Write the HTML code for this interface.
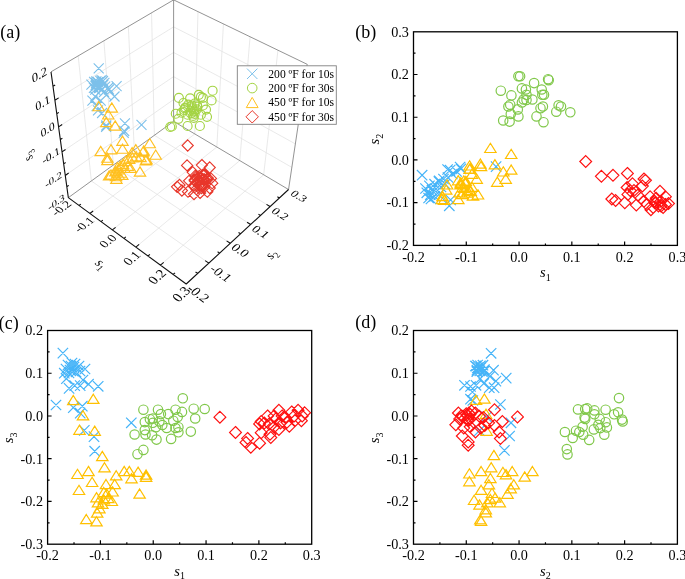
<!DOCTYPE html>
<html><head><meta charset="utf-8"><style>
html,body{margin:0;padding:0;background:#fff;width:685px;height:579px;overflow:hidden}
svg{display:block;will-change:transform}
text{font-family:"Liberation Serif",serif}
</style></head><body>
<svg width="685" height="579" viewBox="0 0 685 579" font-family="'Liberation Serif', serif" font-size="14.2" fill="#000">
<path d="M89.87 213.45L194.8 133.94M91.35 180.98L208.81 263.14M112.35 229.91L216.85 147.02M113.32 165.06L230.26 243.33M135.86 247.13L239.79 160.62M134.3 149.84L250.65 224.51M160.45 265.14L263.66 174.78M154.37 135.29L270.05 206.59M91.35 180.98L78.18 55.87M113.32 165.06L103.93 40.76M134.3 149.84L128.35 26.43M154.37 135.29L151.55 12.81M65.27 175.44L173.58 99.59M62.02 151.87L173.59 76.65M58.57 126.84L173.6 52.46M54.91 100.22L173.6 26.9M194.8 133.94L197.97 11.62M216.85 147.02L223.43 23.91M239.79 160.62L250.07 36.76M263.66 174.78L277.98 50.23M173.58 99.59L291.85 167.37M173.59 76.65L295.35 143.9M173.6 52.46L299.07 119M173.6 26.9L303.03 92.53" stroke="#E0E0E0" stroke-width="0.7" fill="none"/>
<path d="M68.33 197.67L173.58 121.36M173.58 121.36L288.54 189.52M173.58 121.36L173.61 -0.13M51 71.83L173.61 -0.13M173.61 -0.13L307.24 64.34M288.54 189.52L307.24 64.34" stroke="#777" stroke-width="0.8" fill="none"/>
<path d="M68.33 197.67L186.21 284.01M186.21 284.01L288.54 189.52M68.33 197.67L51 71.83M78.99 205.48L80.87 204.08M197.66 273.44L195.56 271.93M89.87 213.45L93.15 210.96M208.81 263.14L205.15 260.58M100.99 221.59L102.87 220.13M219.67 253.11L217.59 251.68M112.35 229.91L115.63 227.31M230.26 243.33L226.63 240.9M123.98 238.43L125.85 236.9M240.58 233.8L238.51 232.45M135.86 247.13L139.13 244.41M250.65 224.51L247.05 222.19M148.02 256.03L149.88 254.44M260.47 215.44L258.41 214.15M160.45 265.14L163.71 262.29M270.05 206.59L266.48 204.39M173.18 274.46L175.04 272.79M279.4 197.96L277.37 196.73M66.82 186.72L68.74 185.35M65.27 175.44L68.66 173.06M63.67 163.83L65.65 162.47M62.02 151.87L65.53 149.51M60.33 139.55L62.37 138.2M58.57 126.84L62.2 124.5M56.77 113.74L58.88 112.4M54.91 100.22L58.66 97.89M52.98 86.25L55.17 84.93" stroke="#111" stroke-width="1.1" fill="none"/>
<text transform="matrix(1 -0.59 0.14 1.05 39.3 74.5)" text-anchor="middle" font-size="12" y="4.1">0.2</text>
<text transform="matrix(0.97 -0.6 0.14 0.99 42.8 102.8)" text-anchor="middle" font-size="12" y="4.1">0.1</text>
<text transform="matrix(0.93 -0.6 0.13 0.93 47.6 129.4)" text-anchor="middle" font-size="12" y="4.1">0.0</text>
<text transform="matrix(0.9 -0.61 0.12 0.87 51 155.5)" text-anchor="middle" font-size="12" y="4.1">-0.1</text>
<text transform="matrix(0.87 -0.61 0.11 0.82 53.6 179.4)" text-anchor="middle" font-size="12" y="4.1">-0.2</text>
<text transform="matrix(0.85 -0.61 0.11 0.78 56.4 202.1)" text-anchor="middle" font-size="12" y="4.1">-0.3</text>
<text transform="matrix(0.85 -0.61 0.76 0.56 61.2 208.2)" text-anchor="middle" font-size="12" y="4.1">-0.2</text>
<text transform="matrix(0.85 -0.64 0.79 0.58 84 224.5)" text-anchor="middle" font-size="12" y="4.1">-0.1</text>
<text transform="matrix(0.84 -0.67 0.83 0.61 107.7 241)" text-anchor="middle" font-size="12" y="4.1">0.0</text>
<text transform="matrix(0.84 -0.7 0.87 0.64 131.7 258.2)" text-anchor="middle" font-size="12" y="4.1">0.1</text>
<text transform="matrix(0.84 -0.73 0.91 0.66 156.9 276.7)" text-anchor="middle" font-size="12" y="4.1">0.2</text>
<text transform="matrix(0.83 -0.77 0.95 0.7 181 294)" text-anchor="middle" font-size="12" y="4.1">0.3</text>
<text transform="matrix(0.95 0.7 -0.84 0.77 198.4 293.3)" text-anchor="middle" font-size="12" y="4.1">-0.2</text>
<text transform="matrix(0.95 0.66 -0.79 0.73 220.9 273.3)" text-anchor="middle" font-size="12" y="4.1">-0.1</text>
<text transform="matrix(0.94 0.63 -0.75 0.7 240.5 250.3)" text-anchor="middle" font-size="12" y="4.1">0.0</text>
<text transform="matrix(0.93 0.6 -0.72 0.66 260.7 231.7)" text-anchor="middle" font-size="12" y="4.1">0.1</text>
<text transform="matrix(0.92 0.57 -0.68 0.63 280.3 213.8)" text-anchor="middle" font-size="12" y="4.1">0.2</text>
<text transform="matrix(0.92 0.54 -0.65 0.6 299 196)" text-anchor="middle" font-size="12" y="4.1">0.3</text>
<text transform="matrix(0.83 0.64 -0.89 0.71 100.7 264.5)" text-anchor="middle" font-size="12.5" y="3"><tspan font-style="italic">s</tspan><tspan font-size="8.75" dy="3">1</tspan></text>
<text transform="matrix(0.73 -0.68 0.94 0.61 272 254.8)" text-anchor="middle" font-size="12.5" y="3"><tspan font-style="italic">s</tspan><tspan font-size="8.75" dy="3">2</tspan></text>
<text transform="matrix(-0.18 -0.91 0.99 -0.66 28.9 156.1)" text-anchor="middle" font-size="12.5" y="3"><tspan font-style="italic">s</tspan><tspan font-size="8.75" dy="3">3</tspan></text>
<path d="M93.7 63.4l10 10M93.7 73.4l10 -10M111.6 81.1l10 10M111.6 91.1l10 -10M109.5 91.5l10 10M109.5 101.5l10 -10M90.2 91.5l10 10M90.2 101.5l10 -10M101.3 90.1l10 10M101.3 100.1l10 -10M95.7 95.6l10 10M95.7 105.6l10 -10M91.6 101.1l10 10M91.6 111.1l10 -10M97.1 108l10 10M97.1 118l10 -10M119.9 118.4l10 10M119.9 128.4l10 -10M136.5 119.8l10 10M136.5 129.8l10 -10M101.3 120.5l10 10M101.3 130.5l10 -10M119.2 126l10 10M119.2 136l10 -10M93 105.3l10 10M93 115.3l10 -10M104 84.5l10 10M104 94.5l10 -10M87.4 95.6l10 10M87.4 105.6l10 -10M101.1 121.8l10 10M101.1 131.8l10 -10M118.7 127.9l10 10M118.7 137.9l10 -10M103 83l10 10M103 93l10 -10M99 87l10 10M99 97l10 -10M95.3 82.7l10 10M95.3 92.7l10 -10M97.1 84.6l10 10M97.1 94.6l10 -10M86.4 79.6l10 10M86.4 89.6l10 -10M100.2 81.6l10 10M100.2 91.6l10 -10M93 77.2l10 10M93 87.2l10 -10M94.2 80.8l10 10M94.2 90.8l10 -10M90.2 84.6l10 10M90.2 94.6l10 -10M97.5 76.3l10 10M97.5 86.3l10 -10M98 76l10 10M98 86l10 -10M95.3 75.9l10 10M95.3 85.9l10 -10M89.1 76.9l10 10M89.1 86.9l10 -10M94.1 82l10 10M94.1 92l10 -10M99.4 77.8l10 10M99.4 87.8l10 -10M91.4 76.3l10 10M91.4 86.3l10 -10M90.5 81.1l10 10M90.5 91.1l10 -10M91.1 77.9l10 10M91.1 87.9l10 -10M98.3 79.8l10 10M98.3 89.8l10 -10M90.7 79.8l10 10M90.7 89.8l10 -10M96.6 75.1l10 10M96.6 85.1l10 -10M97.2 83.8l10 10M97.2 93.8l10 -10M91.5 80.9l10 10M91.5 90.9l10 -10M88.9 82.8l10 10M88.9 92.8l10 -10M91.2 78.4l10 10M91.2 88.4l10 -10M93.9 83l10 10M93.9 93l10 -10" stroke="#7CC0EA" stroke-width="1.1" fill="none"/>
<g fill="none" stroke="#A4D444" stroke-width="1.15"><circle cx="212.6" cy="90.7" r="4.5"/><circle cx="178.9" cy="97.9" r="4.5"/><circle cx="198.8" cy="94.8" r="4.5"/><circle cx="200.9" cy="96.9" r="4.5"/><circle cx="202.9" cy="97.9" r="4.5"/><circle cx="211.6" cy="100.4" r="4.5"/><circle cx="190.1" cy="98.4" r="4.5"/><circle cx="183.5" cy="103" r="4.5"/><circle cx="194.7" cy="103.5" r="4.5"/><circle cx="202.9" cy="105.5" r="4.5"/><circle cx="206" cy="109.6" r="4.5"/><circle cx="194.7" cy="110.7" r="4.5"/><circle cx="190.7" cy="110.7" r="4.5"/><circle cx="181.5" cy="112.7" r="4.5"/><circle cx="175.8" cy="113.7" r="4.5"/><circle cx="187.6" cy="114.7" r="4.5"/><circle cx="200.9" cy="114.7" r="4.5"/><circle cx="207" cy="116.8" r="4.5"/><circle cx="178.4" cy="118.8" r="4.5"/><circle cx="193.7" cy="117.8" r="4.5"/><circle cx="187.6" cy="126" r="4.5"/><circle cx="199.9" cy="126" r="4.5"/><circle cx="170.2" cy="127" r="4.5"/><circle cx="171.8" cy="126.5" r="4.5"/><circle cx="197.3" cy="106.6" r="4.5"/><circle cx="185.5" cy="107.6" r="4.5"/><circle cx="191.7" cy="105.5" r="4.5"/><circle cx="192.3" cy="108.2" r="4.5"/><circle cx="184.1" cy="110" r="4.5"/><circle cx="194" cy="111.6" r="4.5"/><circle cx="184.7" cy="108.3" r="4.5"/><circle cx="196.7" cy="109.3" r="4.5"/><circle cx="197.1" cy="105.2" r="4.5"/><circle cx="188.3" cy="104.6" r="4.5"/><circle cx="193.1" cy="115.9" r="4.5"/><circle cx="194.6" cy="113.8" r="4.5"/><circle cx="190.9" cy="113.4" r="4.5"/></g>
<path d="M98.7 101.5L104.4 110.7L93 110.7ZM111.8 102.9L117.5 112.1L106.1 112.1ZM108.3 109.8L114 119L102.6 119ZM106.3 117.4L112 126.6L100.6 126.6ZM115.2 120.9L120.9 130.1L109.5 130.1ZM122.5 136.1L128.2 145.3L116.8 145.3ZM100.7 146.4L106.4 155.6L95 155.6ZM111 144.6L116.7 153.8L105.3 153.8ZM122.5 144L128.2 153.2L116.8 153.2ZM149.7 138.5L155.4 147.7L144 147.7ZM107.4 153L113.1 162.2L101.7 162.2ZM107.4 155.4L113.1 164.6L101.7 164.6ZM155.7 150L161.4 159.2L150 159.2ZM135.8 144.6L141.5 153.8L130.1 153.8ZM143 147L148.7 156.2L137.3 156.2ZM132.1 147.6L137.8 156.8L126.4 156.8ZM146.6 154.8L152.3 164L140.9 164ZM140 166.9L145.7 176.1L134.3 176.1ZM111 169.9L116.7 179.1L105.3 179.1ZM116.4 174.2L122.1 183.4L110.7 183.4ZM117.4 168L123.1 177.2L111.7 177.2ZM118.8 164.6L124.5 173.8L113.1 173.8ZM120.2 161.1L125.9 170.3L114.5 170.3ZM123 159.1L128.7 168.3L117.3 168.3ZM125.7 156.3L131.4 165.5L120 165.5ZM129.2 154.2L134.9 163.4L123.5 163.4ZM132.6 152.8L138.3 162L126.9 162ZM136.1 151.5L141.8 160.7L130.4 160.7ZM117.4 162.5L123.1 171.7L111.7 171.7ZM115.4 166.7L121.1 175.9L109.7 175.9ZM120.9 168L126.6 177.2L115.2 177.2ZM127.8 161.1L133.5 170.3L122.1 170.3ZM130.6 163.2L136.3 172.4L124.9 172.4ZM124.4 163.2L130.1 172.4L118.7 172.4ZM118.8 170.1L124.5 179.3L113.1 179.3ZM122.3 170.1L128 179.3L116.6 179.3ZM116.1 171.5L121.8 180.7L110.4 180.7ZM109.1 170.8L114.8 180L103.4 180ZM145.8 155.6L151.5 164.8L140.1 164.8ZM143.7 145.9L149.4 155.1L138 155.1ZM140.5 152.4L146.2 161.6L134.8 161.6Z" stroke="#FFC020" stroke-width="1.15" fill="none" stroke-linejoin="miter"/>
<path d="M187.7 139.9L193.3 145.5L187.7 151.1L182.1 145.5ZM187.1 159.8L192.7 165.4L187.1 171L181.5 165.4ZM201.9 159.5L207.5 165.1L201.9 170.7L196.3 165.1ZM209.7 161.9L215.3 167.5L209.7 173.1L204.1 167.5ZM192.8 166.7L198.4 172.3L192.8 177.9L187.2 172.3ZM179.5 179.4L185.1 185L179.5 190.6L173.9 185ZM177.1 181.2L182.7 186.8L177.1 192.4L171.5 186.8ZM181.9 184.9L187.5 190.5L181.9 196.1L176.3 190.5ZM188 186.1L193.6 191.7L188 197.3L182.4 191.7ZM194 188.5L199.6 194.1L194 199.7L188.4 194.1ZM200.1 187.3L205.7 192.9L200.1 198.5L194.5 192.9ZM207.3 186.1L212.9 191.7L207.3 197.3L201.7 191.7ZM195.2 170.3L200.8 175.9L195.2 181.5L189.6 175.9ZM204.9 169.1L210.5 174.7L204.9 180.3L199.3 174.7ZM210.9 172.8L216.5 178.4L210.9 184L205.3 178.4ZM212.2 177.6L217.8 183.2L212.2 188.8L206.6 183.2ZM198.9 176.4L204.5 182L198.9 187.6L193.3 182ZM204.9 178.8L210.5 184.4L204.9 190L199.3 184.4ZM194 180L199.6 185.6L194 191.2L188.4 185.6ZM189.2 175.2L194.8 180.8L189.2 186.4L183.6 180.8ZM201.3 182.4L206.9 188L201.3 193.6L195.7 188ZM209.7 182.4L215.3 188L209.7 193.6L204.1 188ZM196.4 183.6L202 189.2L196.4 194.8L190.8 189.2ZM207.3 174L212.9 179.6L207.3 185.2L201.7 179.6ZM200.1 172.8L205.7 178.4L200.1 184L194.5 178.4ZM199.2 170.5L204.8 176.1L199.2 181.7L193.6 176.1ZM204.4 169.4L210 175L204.4 180.6L198.8 175ZM202.6 173.5L208.2 179.1L202.6 184.7L197 179.1ZM194.9 175.5L200.5 181.1L194.9 186.7L189.3 181.1ZM194.6 174.5L200.2 180.1L194.6 185.7L189 180.1ZM200.8 180L206.4 185.6L200.8 191.2L195.2 185.6ZM196 171.5L201.6 177.1L196 182.7L190.4 177.1ZM204 181.7L209.6 187.3L204 192.9L198.4 187.3ZM203.2 174L208.8 179.6L203.2 185.2L197.6 179.6ZM207.7 172.5L213.3 178.1L207.7 183.7L202.1 178.1ZM198.9 179.8L204.5 185.4L198.9 191L193.3 185.4ZM196.9 176.5L202.5 182.1L196.9 187.7L191.3 182.1ZM204.2 173.6L209.8 179.2L204.2 184.8L198.6 179.2ZM202.8 169.3L208.4 174.9L202.8 180.5L197.2 174.9Z" stroke="#E8362A" stroke-width="1.1" fill="none"/>
<rect x="237.3" y="65.8" width="99" height="58.5" fill="#fff" stroke="#808080" stroke-width="0.9"/>
<path d="M247 68.6l10.4 10.4M247 79l10.4 -10.4" stroke="#7CC0EA" stroke-width="1.0" fill="none"/>
<g fill="none" stroke="#A4D444" stroke-width="1.0"><circle cx="252.2" cy="88.1" r="4.8"/></g>
<path d="M252.2 97.4L258.1 107.6L246.3 107.6Z" stroke="#FFC020" stroke-width="1.0" fill="none" stroke-linejoin="miter"/>
<path d="M252.2 110.6L258.4 116.8L252.2 123L246 116.8Z" stroke="#E8362A" stroke-width="1.0" fill="none"/>
<text x="268.3" y="77.7" font-size="11.6">200 ºF for 10s</text>
<text x="268.3" y="92" font-size="11.6">200 ºF for 30s</text>
<text x="268.3" y="106.4" font-size="11.6">450 ºF for 10s</text>
<text x="268.3" y="120.7" font-size="11.6">450 ºF for 30s</text>
<rect x="413.5" y="31.8" width="263.9" height="213.6" fill="none" stroke="#000" stroke-width="1.3"/>
<path d="M439.89 245.4v-2M466.28 245.4v-4M492.67 245.4v-2M519.06 245.4v-4M545.45 245.4v-2M571.84 245.4v-4M598.23 245.4v-2M624.62 245.4v-4M651.01 245.4v-2M413.5 224.04h2M413.5 202.68h4M413.5 181.32h2M413.5 159.96h4M413.5 138.6h2M413.5 117.24h4M413.5 95.88h2M413.5 74.52h4M413.5 53.16h2" stroke="#000" stroke-width="1.2"/>
<text x="413.5" y="261.5" text-anchor="middle">-0.2</text>
<text x="466.28" y="261.5" text-anchor="middle">-0.1</text>
<text x="519.06" y="261.5" text-anchor="middle">0.0</text>
<text x="571.84" y="261.5" text-anchor="middle">0.1</text>
<text x="624.62" y="261.5" text-anchor="middle">0.2</text>
<text x="677.4" y="261.5" text-anchor="middle">0.3</text>
<text x="408.9" y="250.2" text-anchor="end">-0.2</text>
<text x="408.9" y="207.48" text-anchor="end">-0.1</text>
<text x="408.9" y="164.76" text-anchor="end">0.0</text>
<text x="408.9" y="122.04" text-anchor="end">0.1</text>
<text x="408.9" y="79.32" text-anchor="end">0.2</text>
<text x="408.9" y="36.6" text-anchor="end">0.3</text>
<text x="545.45" y="276.7" text-anchor="middle" font-size="14.5"><tspan font-style="italic">s</tspan><tspan font-size="10" dy="3.8">1</tspan></text>
<text transform="translate(379 139.1) rotate(-90)" text-anchor="middle" font-size="14.5"><tspan font-style="italic">s</tspan><tspan font-size="10" dy="3.8">2</tspan></text>
<path d="M416.9 170l10.4 10.4M416.9 180.4l10.4 -10.4M442.4 164.3l10.4 10.4M442.4 174.7l10.4 -10.4M444.9 164.9l10.4 10.4M444.9 175.3l10.4 -10.4M447.1 168.8l10.4 10.4M447.1 179.2l10.4 -10.4M451.4 166.2l10.4 10.4M451.4 176.6l10.4 -10.4M454.9 161.9l10.4 10.4M454.9 172.3l10.4 -10.4M455.7 163.6l10.4 10.4M455.7 174l10.4 -10.4M442.8 172.3l10.4 10.4M442.8 182.7l10.4 -10.4M434.1 175.7l10.4 10.4M434.1 186.1l10.4 -10.4M438.3 173.8l10.4 10.4M438.3 184.2l10.4 -10.4M444.1 200.6l10.4 10.4M444.1 211l10.4 -10.4M445.4 194.7l10.4 10.4M445.4 205.1l10.4 -10.4M490.9 161.4l10.4 10.4M490.9 171.8l10.4 -10.4M424.2 180.7l10.4 10.4M424.2 191.1l10.4 -10.4M429.4 179l10.4 10.4M429.4 189.4l10.4 -10.4M433.7 176.4l10.4 10.4M433.7 186.8l10.4 -10.4M425.1 189.4l10.4 10.4M425.1 199.8l10.4 -10.4M429.4 191.1l10.4 10.4M429.4 201.5l10.4 -10.4M433.7 189.4l10.4 10.4M433.7 199.8l10.4 -10.4M426.8 185l10.4 10.4M426.8 195.4l10.4 -10.4M421.6 187.6l10.4 10.4M421.6 198l10.4 -10.4M423.4 192.8l10.4 10.4M423.4 203.2l10.4 -10.4M430.8 183.8l10.4 10.4M430.8 194.2l10.4 -10.4M435.8 181.8l10.4 10.4M435.8 192.2l10.4 -10.4M439.8 178.8l10.4 10.4M439.8 189.2l10.4 -10.4M425.8 193.8l10.4 10.4M425.8 204.2l10.4 -10.4M420.3 183.3l10.4 10.4M420.3 193.7l10.4 -10.4" stroke="#46B4F8" stroke-width="1.2" fill="none"/>
<g fill="none" stroke="#80C84A" stroke-width="1.2"><circle cx="518.4" cy="76.3" r="4.7"/><circle cx="520.1" cy="76.3" r="4.7"/><circle cx="548.1" cy="79.2" r="4.7"/><circle cx="548.7" cy="80.2" r="4.7"/><circle cx="500.8" cy="90.7" r="4.7"/><circle cx="534.1" cy="83.1" r="4.7"/><circle cx="521.9" cy="88.4" r="4.7"/><circle cx="525.9" cy="89.5" r="4.7"/><circle cx="541.7" cy="89.5" r="4.7"/><circle cx="511.4" cy="95.4" r="4.7"/><circle cx="542.3" cy="94.8" r="4.7"/><circle cx="544" cy="94.8" r="4.7"/><circle cx="526.5" cy="94.8" r="4.7"/><circle cx="523.6" cy="99.5" r="4.7"/><circle cx="532.4" cy="99.5" r="4.7"/><circle cx="526.5" cy="100" r="4.7"/><circle cx="521.9" cy="102.4" r="4.7"/><circle cx="510.2" cy="104.7" r="4.7"/><circle cx="508.4" cy="106.5" r="4.7"/><circle cx="517.8" cy="109.4" r="4.7"/><circle cx="542.9" cy="106.5" r="4.7"/><circle cx="540.5" cy="108.2" r="4.7"/><circle cx="558.6" cy="105.3" r="4.7"/><circle cx="561" cy="106.5" r="4.7"/><circle cx="556.3" cy="111.7" r="4.7"/><circle cx="570.3" cy="112.3" r="4.7"/><circle cx="510.8" cy="114" r="4.7"/><circle cx="518.4" cy="116.4" r="4.7"/><circle cx="536.5" cy="116.4" r="4.7"/><circle cx="503.2" cy="120.5" r="4.7"/><circle cx="509.6" cy="121.6" r="4.7"/><circle cx="543.5" cy="122.2" r="4.7"/></g>
<path d="M490.4 143.3L496.1 152.5L484.7 152.5ZM511.2 149.3L516.9 158.5L505.5 158.5ZM494.9 159.6L500.6 168.8L489.2 168.8ZM480.4 159L486.1 168.2L474.7 168.2ZM481 161.4L486.7 170.6L475.3 170.6ZM469.6 160.8L475.3 170L463.9 170ZM469.6 164.2L475.3 173.4L463.9 173.4ZM503.3 166.8L509 176L497.6 176ZM511.2 165L516.9 174.2L505.5 174.2ZM505.7 174.1L511.4 183.3L500 183.3ZM497.3 177.1L503 186.3L491.6 186.3ZM476.7 174.1L482.4 183.3L471 183.3ZM478 189.8L483.7 199L472.3 199ZM473 191L478.7 200.2L467.3 200.2ZM458.3 194.5L464 203.7L452.6 203.7ZM441.9 194.5L447.6 203.7L436.2 203.7ZM446.2 185L451.9 194.2L440.5 194.2ZM447.1 179.8L452.8 189L441.4 189ZM442.5 191.4L448.2 200.6L436.8 200.6ZM444.1 195.1L449.8 204.3L438.4 204.3ZM471.9 169.2L477.6 178.4L466.2 178.4ZM470.1 163.8L475.8 173L464.4 173ZM469.4 185.2L475.1 194.4L463.7 194.4ZM465.7 178.3L471.4 187.5L460 187.5ZM464.3 183.1L470 192.3L458.6 192.3ZM463.8 175.9L469.5 185.1L458.1 185.1ZM460.5 179.7L466.2 188.9L454.8 188.9ZM471.9 182.1L477.6 191.3L466.2 191.3ZM460.8 177.7L466.5 186.9L455.1 186.9ZM461.2 178.5L466.9 187.7L455.5 187.7ZM459.4 187.7L465.1 196.9L453.7 196.9ZM462.6 182.4L468.3 191.6L456.9 191.6ZM458.2 175.6L463.9 184.8L452.5 184.8ZM462.2 189.4L467.9 198.6L456.5 198.6ZM465.8 176.3L471.5 185.5L460.1 185.5ZM470.7 186.1L476.4 195.3L465 195.3ZM467.2 187.9L472.9 197.1L461.5 197.1ZM467.8 186L473.5 195.2L462.1 195.2Z" stroke="#FFC000" stroke-width="1.2" fill="none" stroke-linejoin="miter"/>
<path d="M585.7 155.6L591.6 161.5L585.7 167.4L579.8 161.5ZM601.4 170.4L607.3 176.3L601.4 182.2L595.5 176.3ZM613 169.4L618.9 175.3L613 181.2L607.1 175.3ZM627.4 167.5L633.3 173.4L627.4 179.3L621.5 173.4ZM644 173.2L649.9 179.1L644 185L638.1 179.1ZM645.5 174.3L651.4 180.2L645.5 186.1L639.6 180.2ZM632.5 177.8L638.4 183.7L632.5 189.6L626.6 183.7ZM627.1 181.6L633 187.5L627.1 193.4L621.2 187.5ZM634 184.7L639.9 190.6L634 196.5L628.1 190.6ZM642.4 180.1L648.3 186L642.4 191.9L636.5 186ZM660 185.4L665.9 191.3L660 197.2L654.1 191.3ZM665.4 190.8L671.3 196.7L665.4 202.6L659.5 196.7ZM611.8 193.1L617.7 199L611.8 204.9L605.9 199ZM615.6 194.6L621.5 200.5L615.6 206.4L609.7 200.5ZM624.8 196.9L630.7 202.8L624.8 208.7L618.9 202.8ZM627.9 188.5L633.8 194.4L627.9 200.3L622 194.4ZM637.8 189.3L643.7 195.2L637.8 201.1L631.9 195.2ZM636.3 199.2L642.2 205.1L636.3 211L630.4 205.1ZM644 195.4L649.9 201.3L644 207.2L638.1 201.3ZM650.1 190.8L656 196.7L650.1 202.6L644.2 196.7ZM650.9 203.8L656.8 209.7L650.9 215.6L645 209.7ZM654.7 195.4L660.6 201.3L654.7 207.2L648.8 201.3ZM658.5 200L664.4 205.9L658.5 211.8L652.6 205.9ZM660.8 195.4L666.7 201.3L660.8 207.2L654.9 201.3ZM668.5 197.7L674.4 203.6L668.5 209.5L662.6 203.6ZM665.4 198.5L671.3 204.4L665.4 210.3L659.5 204.4ZM656.2 192.3L662.1 198.2L656.2 204.1L650.3 198.2ZM647 198.5L652.9 204.4L647 210.3L641.1 204.4ZM640.9 192.3L646.8 198.2L640.9 204.1L635 198.2ZM630.2 184.7L636.1 190.6L630.2 196.5L624.3 190.6ZM663.1 201.5L669 207.4L663.1 213.3L657.2 207.4ZM653.2 201.5L659.1 207.4L653.2 213.3L647.3 207.4ZM655 197.1L660.9 203L655 208.9L649.1 203ZM661 200.1L666.9 206L661 211.9L655.1 206Z" stroke="#FF1010" stroke-width="1.2" fill="none"/>
<rect x="47.6" y="330.5" width="264.1" height="213.7" fill="none" stroke="#000" stroke-width="1.3"/>
<path d="M74.01 544.2v-2M100.42 544.2v-4M126.83 544.2v-2M153.24 544.2v-4M179.65 544.2v-2M206.06 544.2v-4M232.47 544.2v-2M258.88 544.2v-4M285.29 544.2v-2M47.6 522.83h2M47.6 501.46h4M47.6 480.09h2M47.6 458.72h4M47.6 437.35h2M47.6 415.98h4M47.6 394.61h2M47.6 373.24h4M47.6 351.87h2" stroke="#000" stroke-width="1.2"/>
<text x="47.6" y="560.2" text-anchor="middle">-0.2</text>
<text x="100.42" y="560.2" text-anchor="middle">-0.1</text>
<text x="153.24" y="560.2" text-anchor="middle">0.0</text>
<text x="206.06" y="560.2" text-anchor="middle">0.1</text>
<text x="258.88" y="560.2" text-anchor="middle">0.2</text>
<text x="311.7" y="560.2" text-anchor="middle">0.3</text>
<text x="43" y="549" text-anchor="end">-0.3</text>
<text x="43" y="506.26" text-anchor="end">-0.2</text>
<text x="43" y="463.52" text-anchor="end">-0.1</text>
<text x="43" y="420.78" text-anchor="end">0.0</text>
<text x="43" y="378.04" text-anchor="end">0.1</text>
<text x="43" y="335.3" text-anchor="end">0.2</text>
<text x="179.65" y="575.5" text-anchor="middle" font-size="14.5"><tspan font-style="italic">s</tspan><tspan font-size="10" dy="3.8">1</tspan></text>
<text transform="translate(13.1 437.85) rotate(-90)" text-anchor="middle" font-size="14.5"><tspan font-style="italic">s</tspan><tspan font-size="10" dy="3.8">3</tspan></text>
<path d="M57.7 347.9l10.4 10.4M57.7 358.3l10.4 -10.4M62.8 359.8l10.4 10.4M62.8 370.2l10.4 -10.4M65.8 360.8l10.4 10.4M65.8 371.2l10.4 -10.4M68.8 361.8l10.4 10.4M68.8 372.2l10.4 -10.4M71.8 362.8l10.4 10.4M71.8 373.2l10.4 -10.4M64.8 364.8l10.4 10.4M64.8 375.2l10.4 -10.4M67.8 365.8l10.4 10.4M67.8 376.2l10.4 -10.4M70.8 366.8l10.4 10.4M70.8 377.2l10.4 -10.4M74.8 365.8l10.4 10.4M74.8 376.2l10.4 -10.4M60.8 363.8l10.4 10.4M60.8 374.2l10.4 -10.4M66.8 357.8l10.4 10.4M66.8 368.2l10.4 -10.4M69.8 358.8l10.4 10.4M69.8 369.2l10.4 -10.4M73.8 360.8l10.4 10.4M73.8 371.2l10.4 -10.4M63.8 367.8l10.4 10.4M63.8 378.2l10.4 -10.4M79.8 363.8l10.4 10.4M79.8 374.2l10.4 -10.4M77.8 374.8l10.4 10.4M77.8 385.2l10.4 -10.4M83.3 379l10.4 10.4M83.3 389.4l10.4 -10.4M63.9 383.2l10.4 10.4M63.9 393.6l10.4 -10.4M69.5 380.4l10.4 10.4M69.5 390.8l10.4 -10.4M75 380.4l10.4 10.4M75 390.8l10.4 -10.4M93 381.1l10.4 10.4M93 391.5l10.4 -10.4M61.2 373.5l10.4 10.4M61.2 383.9l10.4 -10.4M59.1 368l10.4 10.4M59.1 378.4l10.4 -10.4M50.8 399.8l10.4 10.4M50.8 410.2l10.4 -10.4M68.1 402.4l10.4 10.4M68.1 412.8l10.4 -10.4M75 407.9l10.4 10.4M75 418.3l10.4 -10.4M77.1 401l10.4 10.4M77.1 411.4l10.4 -10.4M79.1 425.2l10.4 10.4M79.1 435.6l10.4 -10.4M88.8 431.4l10.4 10.4M88.8 441.8l10.4 -10.4M89.5 446l10.4 10.4M89.5 456.4l10.4 -10.4M126.1 417.6l10.4 10.4M126.1 428l10.4 -10.4" stroke="#46B4F8" stroke-width="1.2" fill="none"/>
<g fill="none" stroke="#80C84A" stroke-width="1.2"><circle cx="182.8" cy="398.3" r="4.7"/><circle cx="143.4" cy="409.7" r="4.7"/><circle cx="158" cy="409.7" r="4.7"/><circle cx="175.5" cy="409.7" r="4.7"/><circle cx="182" cy="411.9" r="4.7"/><circle cx="193.7" cy="408.7" r="4.7"/><circle cx="204.7" cy="409" r="4.7"/><circle cx="168.2" cy="414.1" r="4.7"/><circle cx="160.9" cy="414.1" r="4.7"/><circle cx="152.8" cy="418.5" r="4.7"/><circle cx="144.8" cy="422.1" r="4.7"/><circle cx="177.7" cy="417" r="4.7"/><circle cx="195.2" cy="418.5" r="4.7"/><circle cx="159.4" cy="421.4" r="4.7"/><circle cx="162.3" cy="425" r="4.7"/><circle cx="173.3" cy="420.7" r="4.7"/><circle cx="155.8" cy="427.2" r="4.7"/><circle cx="166.7" cy="428" r="4.7"/><circle cx="178.4" cy="427.2" r="4.7"/><circle cx="175.5" cy="428" r="4.7"/><circle cx="178.4" cy="432.3" r="4.7"/><circle cx="144.8" cy="430.1" r="4.7"/><circle cx="145.5" cy="434.5" r="4.7"/><circle cx="134.6" cy="434.5" r="4.7"/><circle cx="152.1" cy="435.3" r="4.7"/><circle cx="156.5" cy="439.6" r="4.7"/><circle cx="171.1" cy="438.9" r="4.7"/><circle cx="190.8" cy="431.6" r="4.7"/><circle cx="143.4" cy="449.9" r="4.7"/><circle cx="137.5" cy="454.2" r="4.7"/><circle cx="149.9" cy="419.2" r="4.7"/><circle cx="152.8" cy="422.8" r="4.7"/></g>
<path d="M73.3 395.5L79 404.7L67.6 404.7ZM93.3 394.2L99 403.4L87.6 403.4ZM83 410.7L88.7 419.9L77.3 419.9ZM79.5 425.1L85.2 434.3L73.8 434.3ZM94.7 426.1L100.4 435.3L89 435.3ZM102.3 451.4L108 460.6L96.6 460.6ZM77.5 469.3L83.2 478.5L71.8 478.5ZM88.5 466.4L94.2 475.6L82.8 475.6ZM104.5 462.7L110.2 471.9L98.8 471.9ZM92.1 477.3L97.8 486.5L86.4 486.5ZM79 485.3L84.7 494.5L73.3 494.5ZM116.2 470.7L121.9 479.9L110.5 479.9ZM124.2 466.4L129.9 475.6L118.5 475.6ZM129.3 466.4L135 475.6L123.6 475.6ZM138.1 467.1L143.8 476.3L132.4 476.3ZM146.1 470L151.8 479.2L140.4 479.2ZM146.1 472.2L151.8 481.4L140.4 481.4ZM131.5 473.6L137.2 482.8L125.8 482.8ZM114.7 479.5L120.4 488.7L109 488.7ZM106 479.5L111.7 488.7L100.3 488.7ZM139.6 489L145.3 498.2L133.9 498.2ZM112.6 486.8L118.3 496L106.9 496ZM103.8 487.5L109.5 496.7L98.1 496.7ZM96.5 492.6L102.2 501.8L90.8 501.8ZM108.2 493.4L113.9 502.6L102.5 502.6ZM111.8 496.3L117.5 505.5L106.1 505.5ZM98 497.7L103.7 506.9L92.3 506.9ZM102.3 499.2L108 508.4L96.6 508.4ZM99.4 503.6L105.1 512.8L93.7 512.8ZM97.2 508L102.9 517.2L91.5 517.2ZM86.3 514.5L92 523.7L80.6 523.7ZM96.5 516.7L102.2 525.9L90.8 525.9ZM103.8 494.8L109.5 504L98.1 504ZM106.7 489L112.4 498.2L101 498.2Z" stroke="#FFC000" stroke-width="1.2" fill="none" stroke-linejoin="miter"/>
<path d="M219.9 411.3L225.8 417.2L219.9 423.1L214 417.2ZM235.5 426.5L241.4 432.4L235.5 438.3L229.6 432.4ZM247.6 432.5L253.5 438.4L247.6 444.3L241.7 438.4ZM246 436.5L251.9 442.4L246 448.3L240.1 442.4ZM250.8 441.3L256.7 447.2L250.8 453.1L244.9 447.2ZM259.6 437.3L265.5 443.2L259.6 449.1L253.7 443.2ZM261.2 426.8L267.1 432.7L261.2 438.6L255.3 432.7ZM261.2 415.6L267.1 421.5L261.2 427.4L255.3 421.5ZM267.6 410L273.5 415.9L267.6 421.8L261.7 415.9ZM270 428.4L275.9 434.3L270 440.2L264.1 434.3ZM270.8 431.7L276.7 437.6L270.8 443.5L264.9 437.6ZM278.9 404.4L284.8 410.3L278.9 416.2L273 410.3ZM275.7 413.2L281.6 419.1L275.7 425L269.8 419.1ZM280.5 417.2L286.4 423.1L280.5 429L274.6 423.1ZM285.3 411.6L291.2 417.5L285.3 423.4L279.4 417.5ZM289.3 420.4L295.2 426.3L289.3 432.2L283.4 426.3ZM291.7 406L297.6 411.9L291.7 417.8L285.8 411.9ZM298.1 404.4L304 410.3L298.1 416.2L292.2 410.3ZM302.2 410L308.1 415.9L302.2 421.8L296.3 415.9ZM294.9 414.8L300.8 420.7L294.9 426.6L289 420.7ZM264.4 417.2L270.3 423.1L264.4 429L258.5 423.1ZM269.2 418L275.1 423.9L269.2 429.8L263.3 423.9ZM274.1 421.2L280 427.1L274.1 433L268.2 427.1ZM278.9 423.6L284.8 429.5L278.9 435.4L273 429.5ZM286.9 416.4L292.8 422.3L286.9 428.2L281 422.3ZM301.4 414.8L307.3 420.7L301.4 426.6L295.5 420.7ZM294.1 410L300 415.9L294.1 421.8L288.2 415.9ZM282.1 410L288 415.9L282.1 421.8L276.2 415.9ZM274.1 410L280 415.9L274.1 421.8L268.2 415.9ZM259.6 418L265.5 423.9L259.6 429.8L253.7 423.9ZM304.6 406.8L310.5 412.7L304.6 418.6L298.7 412.7Z" stroke="#FF1010" stroke-width="1.2" fill="none"/>
<rect x="413.5" y="330.5" width="263.9" height="213.7" fill="none" stroke="#000" stroke-width="1.3"/>
<path d="M439.89 544.2v-2M466.28 544.2v-4M492.67 544.2v-2M519.06 544.2v-4M545.45 544.2v-2M571.84 544.2v-4M598.23 544.2v-2M624.62 544.2v-4M651.01 544.2v-2M413.5 522.83h2M413.5 501.46h4M413.5 480.09h2M413.5 458.72h4M413.5 437.35h2M413.5 415.98h4M413.5 394.61h2M413.5 373.24h4M413.5 351.87h2" stroke="#000" stroke-width="1.2"/>
<text x="413.5" y="560.2" text-anchor="middle">-0.2</text>
<text x="466.28" y="560.2" text-anchor="middle">-0.1</text>
<text x="519.06" y="560.2" text-anchor="middle">0.0</text>
<text x="571.84" y="560.2" text-anchor="middle">0.1</text>
<text x="624.62" y="560.2" text-anchor="middle">0.2</text>
<text x="677.4" y="560.2" text-anchor="middle">0.3</text>
<text x="408.9" y="549" text-anchor="end">-0.3</text>
<text x="408.9" y="506.26" text-anchor="end">-0.2</text>
<text x="408.9" y="463.52" text-anchor="end">-0.1</text>
<text x="408.9" y="420.78" text-anchor="end">0.0</text>
<text x="408.9" y="378.04" text-anchor="end">0.1</text>
<text x="408.9" y="335.3" text-anchor="end">0.2</text>
<text x="545.45" y="575.5" text-anchor="middle" font-size="14.5"><tspan font-style="italic">s</tspan><tspan font-size="10" dy="3.8">2</tspan></text>
<text transform="translate(379 437.85) rotate(-90)" text-anchor="middle" font-size="14.5"><tspan font-style="italic">s</tspan><tspan font-size="10" dy="3.8">3</tspan></text>
<path d="M485.9 348.1l10.4 10.4M485.9 358.5l10.4 -10.4M501 372.9l10.4 10.4M501 383.3l10.4 -10.4M459.3 380.1l10.4 10.4M459.3 390.5l10.4 -10.4M465.3 381.3l10.4 10.4M465.3 391.7l10.4 -10.4M470.8 380.1l10.4 10.4M470.8 390.5l10.4 -10.4M478.6 378.3l10.4 10.4M478.6 388.7l10.4 -10.4M484.1 382.5l10.4 10.4M484.1 392.9l10.4 -10.4M488.9 382.5l10.4 10.4M488.9 392.9l10.4 -10.4M490.7 375.9l10.4 10.4M490.7 386.3l10.4 -10.4M467.2 386.8l10.4 10.4M467.2 397.2l10.4 -10.4M465.3 394l10.4 10.4M465.3 404.4l10.4 -10.4M475 373.5l10.4 10.4M475 383.9l10.4 -10.4M484.7 371.1l10.4 10.4M484.7 381.5l10.4 -10.4M488.3 365l10.4 10.4M488.3 375.4l10.4 -10.4M495.2 399.3l10.4 10.4M495.2 409.7l10.4 -10.4M505.8 417.6l10.4 10.4M505.8 428l10.4 -10.4M504.4 430.8l10.4 10.4M504.4 441.2l10.4 -10.4M499.2 445.2l10.4 10.4M499.2 455.6l10.4 -10.4M481.4 411.7l10.4 10.4M481.4 422.1l10.4 -10.4M474.2 425.5l10.4 10.4M474.2 435.9l10.4 -10.4M467.6 395.3l10.4 10.4M467.6 405.7l10.4 -10.4M471.7 365l10.4 10.4M471.7 375.4l10.4 -10.4M477.2 366.4l10.4 10.4M477.2 376.8l10.4 -10.4M470.7 360.9l10.4 10.4M470.7 371.3l10.4 -10.4M470.2 360.8l10.4 10.4M470.2 371.2l10.4 -10.4M477.8 360l10.4 10.4M477.8 370.4l10.4 -10.4M475.2 360.7l10.4 10.4M475.2 371.1l10.4 -10.4M472.1 362.7l10.4 10.4M472.1 373.1l10.4 -10.4M479.2 364.3l10.4 10.4M479.2 374.7l10.4 -10.4M478.8 366.1l10.4 10.4M478.8 376.5l10.4 -10.4M479 365.5l10.4 10.4M479 375.9l10.4 -10.4M471.6 366.4l10.4 10.4M471.6 376.8l10.4 -10.4M474.6 365.6l10.4 10.4M474.6 376l10.4 -10.4M475.6 362.7l10.4 10.4M475.6 373.1l10.4 -10.4M473 362.7l10.4 10.4M473 373.1l10.4 -10.4M472.4 359.9l10.4 10.4M472.4 370.3l10.4 -10.4M479 366l10.4 10.4M479 376.4l10.4 -10.4" stroke="#46B4F8" stroke-width="1.2" fill="none"/>
<g fill="none" stroke="#80C84A" stroke-width="1.2"><circle cx="619" cy="398.1" r="4.7"/><circle cx="578" cy="409.4" r="4.7"/><circle cx="585.2" cy="409.1" r="4.7"/><circle cx="587.2" cy="408.4" r="4.7"/><circle cx="594.4" cy="410.4" r="4.7"/><circle cx="605.6" cy="409.7" r="4.7"/><circle cx="614.1" cy="414.3" r="4.7"/><circle cx="618.1" cy="412.3" r="4.7"/><circle cx="622" cy="419.6" r="4.7"/><circle cx="622.7" cy="421.5" r="4.7"/><circle cx="584.6" cy="417.6" r="4.7"/><circle cx="585.2" cy="418.9" r="4.7"/><circle cx="594.4" cy="414.3" r="4.7"/><circle cx="599.7" cy="418.9" r="4.7"/><circle cx="605.6" cy="422.2" r="4.7"/><circle cx="598.4" cy="424.8" r="4.7"/><circle cx="606.9" cy="427.4" r="4.7"/><circle cx="600.3" cy="428.1" r="4.7"/><circle cx="593.8" cy="429.4" r="4.7"/><circle cx="582.6" cy="426.8" r="4.7"/><circle cx="576" cy="430.7" r="4.7"/><circle cx="579.3" cy="432" r="4.7"/><circle cx="564.9" cy="432" r="4.7"/><circle cx="572.7" cy="438" r="4.7"/><circle cx="583.2" cy="434.7" r="4.7"/><circle cx="589.2" cy="439.9" r="4.7"/><circle cx="604.3" cy="434.7" r="4.7"/><circle cx="566.8" cy="449.1" r="4.7"/><circle cx="567.5" cy="454.4" r="4.7"/></g>
<path d="M476 395.2L481.7 404.4L470.3 404.4ZM484.4 394L490.1 403.2L478.7 403.2ZM486 409.1L491.7 418.3L480.3 418.3ZM486.6 426.1L492.3 435.3L480.9 435.3ZM493.9 450.4L499.6 459.6L488.2 459.6ZM469.4 468.8L475.1 478L463.7 478ZM481.1 466.5L486.8 475.7L475.4 475.7ZM491.2 462.6L496.9 471.8L485.5 471.8ZM502.9 467.3L508.6 476.5L497.2 476.5ZM506 469.6L511.7 478.8L500.3 478.8ZM512.2 466.5L517.9 475.7L506.5 475.7ZM524.7 471.9L530.4 481.1L519 481.1ZM532.4 466.5L538.1 475.7L526.7 475.7ZM469.4 476.6L475.1 485.8L463.7 485.8ZM490.4 473.5L496.1 482.7L484.7 482.7ZM488.9 479.7L494.6 488.9L483.2 488.9ZM481.1 485.2L486.8 494.4L475.4 494.4ZM513.8 479.7L519.5 488.9L508.1 488.9ZM510.7 483.6L516.4 492.8L505 492.8ZM507.5 489.1L513.2 498.3L501.8 498.3ZM492 488.3L497.7 497.5L486.3 497.5ZM495.1 492.9L500.8 502.1L489.4 502.1ZM499.8 497.6L505.5 506.8L494.1 506.8ZM474.1 495.3L479.8 504.5L468.4 504.5ZM479.5 499.9L485.2 509.1L473.8 509.1ZM487.3 497.6L493 506.8L481.6 506.8ZM485.8 504.6L491.5 513.8L480.1 513.8ZM485.8 507.7L491.5 516.9L480.1 516.9ZM480.3 514.7L486 523.9L474.6 523.9ZM481.1 516.3L486.8 525.5L475.4 525.5ZM490.4 494.5L496.1 503.7L484.7 503.7Z" stroke="#FFC000" stroke-width="1.2" fill="none" stroke-linejoin="miter"/>
<path d="M458.4 407.1L464.3 413L458.4 418.9L452.5 413ZM455.8 418.9L461.7 424.8L455.8 430.7L449.9 424.8ZM463 410.4L468.9 416.3L463 422.2L457.1 416.3ZM466.3 407.8L472.2 413.7L466.3 419.6L460.4 413.7ZM471.5 405.1L477.4 411L471.5 416.9L465.6 411ZM475.5 407.1L481.4 413L475.5 418.9L469.6 413ZM468.9 414.3L474.8 420.2L468.9 426.1L463 420.2ZM474.2 416.9L480.1 422.8L474.2 428.7L468.3 422.8ZM479.4 410.4L485.3 416.3L479.4 422.2L473.5 416.3ZM483.4 411.7L489.3 417.6L483.4 423.5L477.5 417.6ZM494.5 403.8L500.4 409.7L494.5 415.6L488.6 409.7ZM502.4 415.6L508.3 421.5L502.4 427.4L496.5 421.5ZM517.5 411L523.4 416.9L517.5 422.8L511.6 416.9ZM494.5 419.6L500.4 425.5L494.5 431.4L488.6 425.5ZM484.7 419.6L490.6 425.5L484.7 431.4L478.8 425.5ZM463.7 422.2L469.6 428.1L463.7 434L457.8 428.1ZM462.3 430.1L468.2 436L462.3 441.9L456.4 436ZM468.2 436L474.1 441.9L468.2 447.8L462.3 441.9ZM468.2 439.3L474.1 445.2L468.2 451.1L462.3 445.2ZM499.1 426.1L505 432L499.1 437.9L493.2 432ZM500.4 432.7L506.3 438.6L500.4 444.5L494.5 438.6ZM475.5 426.1L481.4 432L475.5 437.9L469.6 432ZM470.2 420.9L476.1 426.8L470.2 432.7L464.3 426.8ZM459.7 413L465.6 418.9L459.7 424.8L453.8 418.9ZM480.7 422.2L486.6 428.1L480.7 434L474.8 428.1ZM488.6 416.9L494.5 422.8L488.6 428.7L482.7 422.8ZM467.3 414.2L473.2 420.1L467.3 426L461.4 420.1ZM470.2 413.1L476.1 419L470.2 424.9L464.3 419ZM468.9 407.2L474.8 413.1L468.9 419L463 413.1ZM461.3 409.9L467.2 415.8L461.3 421.7L455.4 415.8ZM470 408.6L475.9 414.5L470 420.4L464.1 414.5ZM467 409.3L472.9 415.2L467 421.1L461.1 415.2Z" stroke="#FF1010" stroke-width="1.2" fill="none"/>
<text x="0.3" y="38.4" font-size="18">(a)</text>
<text x="355.3" y="38.4" font-size="18">(b)</text>
<text x="-1.2" y="328.6" font-size="18">(c)</text>
<text x="355.3" y="328.4" font-size="18">(d)</text>
</svg>
</body></html>
